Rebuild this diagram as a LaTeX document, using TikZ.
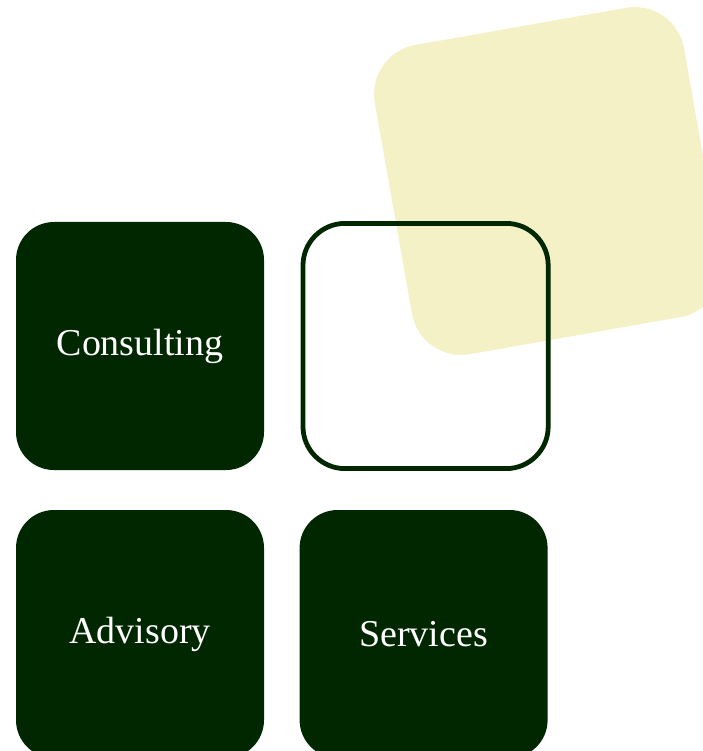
\documentclass[tikz,border=0pt]{standalone}
\usepackage{fontspec}
\setmainfont{Liberation Serif}
\definecolor{forest}{HTML}{002700}
\definecolor{cream}{HTML}{F4F1C6}
\begin{document}
\begin{tikzpicture}
  \useasboundingbox (0, 0) rectangle (17.55, -18.775);  % Rahmen fest.

  \tikzstyle{tile}=[rectangle, rounded corners=0.95cm, minimum size=6.2cm, inner sep=0pt, text=white, font=\fontsize{27}{32}\selectfont]
  \tikzstyle{filled}=[fill=forest]
  \tikzstyle{empty}=[draw=forest, line width=3.4pt, minimum size=6.13cm, rounded corners=1.05cm]
  \tikzstyle{back}=[rectangle, fill=cream, rounded corners=1.25cm, minimum size=7.85cm, inner sep=0pt, rotate=10]

  \node[back] (b) at (13.7, -4.525) {};
  \node[tile, filled] (c) at (3.5, -8.65)   {Consulting};
  \node[tile, empty]  (e) at (10.64, -8.65) {};
  \node[tile, filled] (a) at (3.5, -15.85)  {Advisory};
  \node[tile, filled] (s) at (10.59, -15.85) {Services};
\end{tikzpicture}
\end{document}
